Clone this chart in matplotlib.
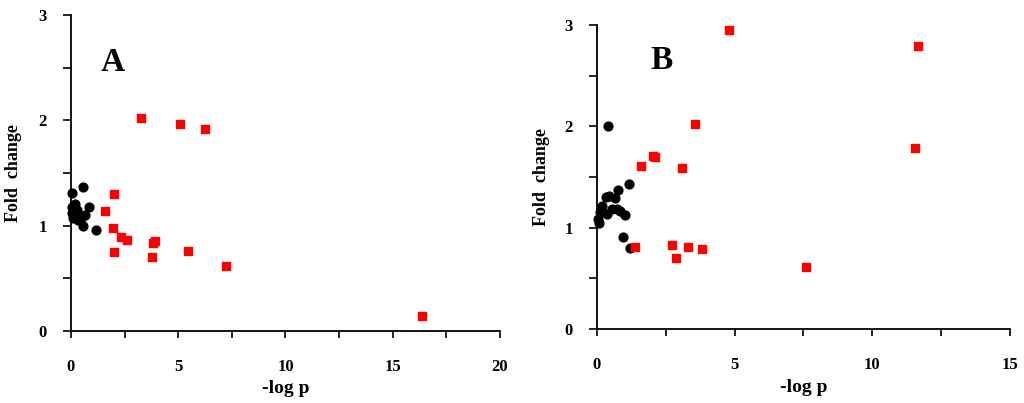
import matplotlib.pyplot as plt
import numpy as np

plt.rcParams["font.family"] = ["Liberation Serif", "DejaVu Serif"]
plt.rcParams["font.weight"] = "bold"

# panel A
a_black_x = [0.06, 0.57, 0.19, 0.84, 0.26, 0.03, 0.65, 0.47, 0.11, 0.57, 1.17, 0.03, 0.34]
a_black_y = [1.31, 1.37, 1.21, 1.18, 1.15, 1.18, 1.10, 1.07, 1.07, 1.00, 0.96, 1.12, 1.05]
a_red_x = [3.28, 5.10, 6.26, 2.00, 1.60, 1.94, 2.35, 2.61, 3.82, 3.90, 1.99, 3.76, 5.47, 7.21, 16.38]
a_red_y = [2.02, 1.965, 1.92, 1.30, 1.14, 0.98, 0.89, 0.86, 0.84, 0.85, 0.75, 0.70, 0.76, 0.62, 0.146]

# panel B
b_black_x = [0.41, 1.16, 0.77, 0.33, 0.43, 0.65, 0.18, 0.11, 0.35, 0.53, 0.71, 0.83, 1.01, 0.05, 0.08, 0.94, 1.21]
b_black_y = [2.00, 1.43, 1.37, 1.30, 1.31, 1.29, 1.21, 1.16, 1.14, 1.18, 1.18, 1.17, 1.13, 1.09, 1.05, 0.91, 0.80]
b_red_x = [4.81, 11.68, 3.57, 11.56, 2.05, 2.10, 1.60, 3.08, 1.37, 2.74, 3.29, 3.80, 2.87, 7.61]
b_red_y = [2.95, 2.79, 2.02, 1.79, 1.71, 1.70, 1.61, 1.59, 0.81, 0.826, 0.81, 0.79, 0.70, 0.615]

fig = plt.figure(figsize=(10.24, 4.03), dpi=100)
ax_a = fig.add_axes([0.0693, 0.1787, 0.419, 0.784])
ax_b = fig.add_axes([0.583, 0.1836, 0.403, 0.754])


def style(ax, xmax, letter, lx, ly, xlab_y):
    ax.set_xlim(0, xmax)
    ax.set_ylim(0, 3)
    for s in ["top", "right"]:
        ax.spines[s].set_visible(False)
    for s in ["left", "bottom"]:
        ax.spines[s].set_linewidth(1.3)
    xt = np.arange(0, xmax + 0.1, 2.5)
    ax.set_xticks(xt)
    ax.set_xticklabels(["%d" % v if v % 5 == 0 else "" for v in xt])
    yt = np.arange(0, 3.01, 0.5)
    ax.set_yticks(yt)
    ax.set_yticklabels(["%d" % v if v % 1 == 0 else "" for v in yt])
    ax.tick_params(axis="x", direction="out", length=5, width=1.2, pad=15, labelsize=12)
    ax.tick_params(axis="y", direction="out", length=5.5, width=1.2, pad=12, labelsize=12)
    ax.set_xlabel("-log p", fontsize=14, fontweight="bold")
    ax.xaxis.set_label_coords(0.5, xlab_y)
    ax.set_ylabel("Fold  change", fontsize=13, fontweight="bold")
    ax.yaxis.set_label_coords(-0.114, 0.5)
    ax.text(lx, ly, letter, fontsize=24, fontweight="bold", ha="center", va="center")


ax_a.scatter(a_black_x, a_black_y, s=40, color="black", zorder=3, clip_on=False)
ax_a.scatter(a_red_x, a_red_y, s=30, color="#ff0000", marker="s", zorder=3)
style(ax_a, 20, "A", 1.95, 2.55, -0.155)

ax_b.scatter(b_black_x, b_black_y, s=40, color="black", zorder=3, clip_on=False)
ax_b.scatter(b_red_x, b_red_y, s=30, color="#ff0000", marker="s", zorder=3)
style(ax_b, 15, "B", 2.36, 2.65, -0.165)

fig.savefig("out.png", dpi=100)
